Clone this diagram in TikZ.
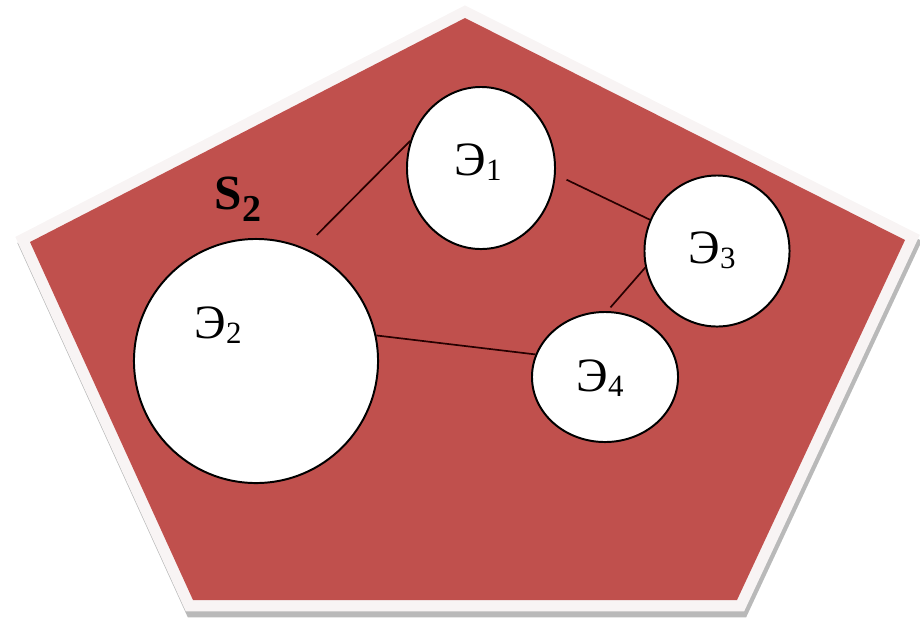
\documentclass[tikz,border=0pt]{standalone}
\usepackage{fontspec}
\setmainfont{Liberation Serif}
\usetikzlibrary{shapes.geometric}
\definecolor{areared}{RGB}{192,80,77}
\definecolor{rim}{RGB}{248,244,244}
\newcommand{\elem}[1]{Э\raisebox{-0.1em}{\fontsize{22}{22}\selectfont #1}}

\begin{document}
\begin{tikzpicture}[x=0.025cm, y=-0.025cm,
    elem/.style={ellipse, draw=black, line width=1.4pt, fill=white, inner sep=0pt},
    link/.style={draw=black!85!red, line width=1.2pt},
    lbl/.style={font=\fontsize{34}{34}\selectfont, inner sep=0pt}]
    \useasboundingbox (0,0) rectangle (920,621);
    % area S2 with rim and shadow
    \draw[gray!55, line width=16pt, line join=miter, fill=gray!55]
      (467,24) -- (907,246) -- (739,606) -- (195,606) -- (32,248) -- cycle;
    \draw[rim, line width=16pt, line join=miter, fill=areared]
      (465,18) -- (905,240) -- (737,600) -- (193,600) -- (30,242) -- cycle;
    \fill[areared] (465,18) -- (905,240) -- (737,600) -- (193,600) -- (30,242) -- cycle;
    \node[lbl, font=\fontsize{35}{35}\selectfont\bfseries] (s2) at (238,199)
      {S\raisebox{-0.25em}{\fontsize{27}{27}\selectfont 2}};
    % elements
    \node[elem, minimum width=3.7cm, minimum height=4.05cm] (e1) at (481,168) {};
    \node[elem, minimum width=6.1cm, minimum height=6.1cm] (e2) at (256,361) {};
    \node[elem, minimum width=3.625cm, minimum height=3.775cm] (e3) at (717,251) {};
    \node[elem, minimum width=3.65cm, minimum height=3.25cm] (e4) at (605,377) {};
    \node[lbl] (t1) at (478,162) {\elem{1}};
    \node[lbl] (t2) at (218,325) {\elem{2}};
    \node[lbl] (t3) at (712,250) {\elem{3}};
    \node[lbl] (t4) at (600,378) {\elem{4}};
    % links
    \draw[link, shorten >=0.45cm] (e1.159) -- (e2.67);
    \draw[link, shorten <=0.3cm] (e1.-5) -- (e3.155);
    \draw[link, shorten >=0.12cm] (e3.193) -- (e4.88);
    \draw[link] (e2.12) -- (e4.162);
\end{tikzpicture}
\end{document}
